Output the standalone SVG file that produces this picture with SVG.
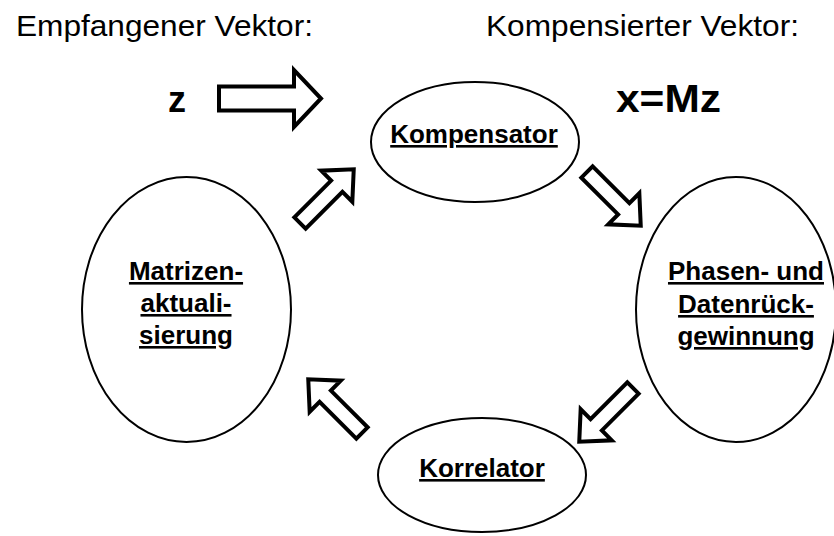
<svg xmlns="http://www.w3.org/2000/svg" width="834" height="536" viewBox="0 0 834 536">
  <style>
    .node { fill: #ffffff; stroke: #000000; stroke-width: 2; }
    .lbl { font-family: "Liberation Sans", Arial, sans-serif; font-weight: bold; font-size: 26px; text-anchor: middle; text-decoration: underline; fill: #000; }
    .title { font-family: "Liberation Sans", Arial, sans-serif; font-size: 30px; fill: #000; }
    .var { font-family: "Liberation Sans", Arial, sans-serif; font-weight: bold; fill: #000; }
    .arrow { fill: #ffffff; stroke: #000000; stroke-width: 4; stroke-linejoin: miter; stroke-miterlimit: 10; }
  </style>
  <defs>
    <path id="blockArrow" d="M0,-8 L52,-8 L52,-22 L76,0 L52,22 L52,8 L0,8 Z"/>
  </defs>
  <rect width="834" height="536" fill="#ffffff"/>

  <text class="title" x="16" y="36" textLength="297" lengthAdjust="spacingAndGlyphs">Empfangener Vektor:</text>
  <text class="title" x="486" y="36" textLength="313" lengthAdjust="spacingAndGlyphs">Kompensierter Vektor:</text>
  <text class="var" x="168" y="112" font-size="36">z</text>
  <text class="var" x="616" y="112" font-size="38" textLength="105" lengthAdjust="spacingAndGlyphs">x=Mz</text>

  <g id="kompensator">
    <ellipse class="node" cx="475" cy="142" rx="104" ry="60"/>
    <text class="lbl" x="474" y="143">Kompensator</text>
  </g>
  <g id="phasen">
    <ellipse class="node" cx="736" cy="309.5" rx="100" ry="132.5"/>
    <text class="lbl" x="746" y="280">Phasen- und</text>
    <text class="lbl" x="746" y="313">Datenrück-</text>
    <text class="lbl" x="746" y="345">gewinnung</text>
  </g>
  <g id="korrelator">
    <ellipse class="node" cx="482" cy="475" rx="104" ry="57"/>
    <text class="lbl" x="482" y="477">Korrelator</text>
  </g>
  <g id="matrizen">
    <ellipse class="node" cx="186.5" cy="309.5" rx="104.5" ry="132.5"/>
    <text class="lbl" x="186" y="280">Matrizen-</text>
    <text class="lbl" x="186" y="312">aktuali-</text>
    <text class="lbl" x="186" y="344">sierung</text>
  </g>

  <g id="connectors">
    <path class="arrow" d="M219,86.5 L294,86.5 L294,70 L321,98.5 L294,127 L294,110.5 L219,110.5 Z"/>
    <use href="#blockArrow" class="arrow" transform="translate(300,223) rotate(-45)"/>
    <use href="#blockArrow" class="arrow" transform="translate(587,172) rotate(45)"/>
    <use href="#blockArrow" class="arrow" transform="translate(633,388) rotate(135)"/>
    <use href="#blockArrow" class="arrow" transform="translate(362,433) rotate(-135)"/>
  </g>
</svg>
